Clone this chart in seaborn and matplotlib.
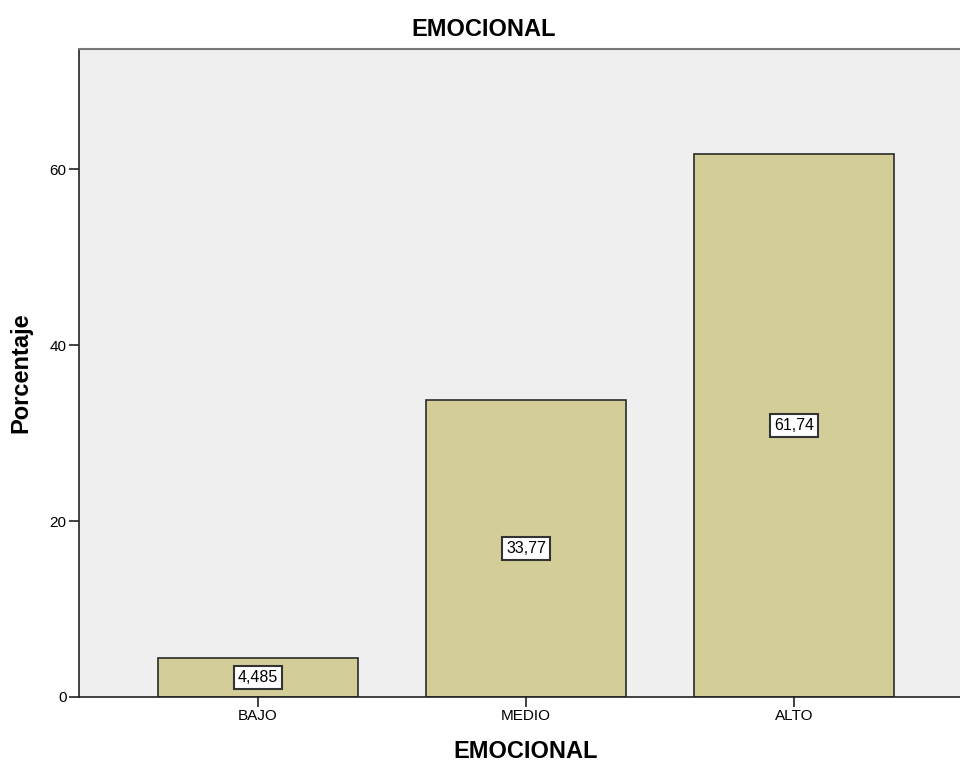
"""SPSS-style bar chart: EMOCIONAL percentages."""
import matplotlib
matplotlib.use("Agg")
import matplotlib.pyplot as plt
import pandas as pd
import seaborn as sns

categories = ["BAJO", "MEDIO", "ALTO"]
percentages = [4.485, 33.77, 61.74]
value_labels = ["4,485", "33,77", "61,74"]
y_ticks = [0, 20, 40, 60]

sns.set_style("white")
plt.rcParams["font.family"] = ["Liberation Sans", "DejaVu Sans"]
plt.rcParams.update({
    "text.color": "black",
    "axes.labelcolor": "black",
    "xtick.color": "black",
    "ytick.color": "black",
})

df = pd.DataFrame({"nivel": categories, "pct": percentages})

fig = plt.figure(figsize=(9.6, 7.66), dpi=100)
ax = fig.add_axes([79 / 960, 69 / 766, 894 / 960, 648 / 766])
ax.set_facecolor("#efefef")

sns.barplot(data=df, x="nivel", y="pct", ax=ax, color="#d3ce97",
            saturation=1, width=0.746, edgecolor="#2b2b2b", linewidth=1.2)

for i, (v, lab) in enumerate(zip(percentages, value_labels)):
    ax.text(i, v / 2, lab, ha="center", va="center", fontsize=11.5,
            bbox=dict(boxstyle="square,pad=0.25", facecolor="white",
                      edgecolor="#333333", linewidth=1.5))

ax.set_xlim(-0.668, 2.668)
ax.set_ylim(0, 73.7)
ax.set_yticks(y_ticks)
ax.tick_params(axis="both", direction="out", length=7, width=1.2,
               color="#222222", labelsize=11, pad=2, left=True, bottom=True)

for side in ["left", "bottom"]:
    ax.spines[side].set_color("#222222")
    ax.spines[side].set_linewidth(1.2)
ax.spines["top"].set_color("#777777")
ax.spines["top"].set_linewidth(1.5)
ax.spines["right"].set_visible(False)

ax.set_xlabel("EMOCIONAL", fontsize=17, fontweight="bold", labelpad=12)
ax.set_ylabel("Porcentaje", fontsize=17, fontweight="bold", labelpad=12)
fig.text(484 / 960, 1 - 29 / 766, "EMOCIONAL", ha="center", va="center",
         fontsize=17, fontweight="bold")

fig.savefig("out.png", dpi=100)
